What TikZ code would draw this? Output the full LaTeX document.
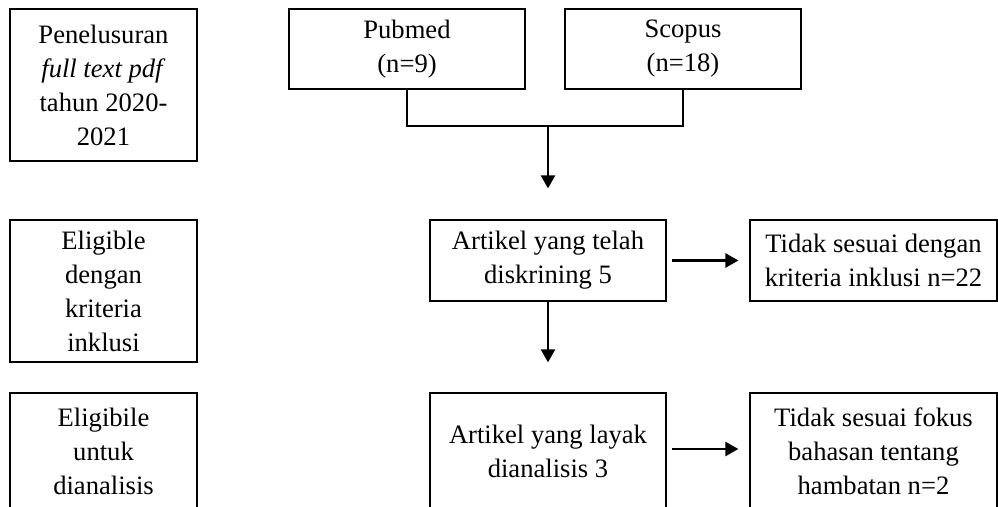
\documentclass[tikz,border=0pt]{standalone}
\usepackage{fontspec}
\setmainfont{Liberation Serif}
\usetikzlibrary{arrows.meta}
\begin{document}
\begin{tikzpicture}[x=0.5pt,y=-0.5pt,
  box/.style={draw, line width=0.6pt, rectangle, inner sep=0pt, align=center,
    font=\fontsize{13.3}{17}\selectfont},
  conn/.style={line width=1.3pt},
  arr/.style={line width=1.3pt, -{Triangle[length=6.5pt,width=7pt]}}]
\useasboundingbox (0,0) rectangle (998,507);
\clip (0,0) rectangle (998,507);
% left column
\node[box, minimum width=93.5pt, minimum height=76pt] (pen) at (103.5,85)
  {Penelusuran\\ \textit{full text pdf}\\ tahun 2020-\\ 2021};
\node[box, minimum width=93.5pt, minimum height=71pt] (elig) at (103.5,291)
  {Eligible\\ dengan\\ kriteria\\ inklusi};
\node[box, minimum width=93.5pt, minimum height=58pt] (elig2) at (103.5,451)
  {Eligibile\\ untuk\\ dianalisis};
% sources
\node[box, minimum width=118pt, minimum height=40pt] (pub) at (407,49)
  {Pubmed\\ (n=9)};
\node[box, minimum width=118pt, minimum height=40pt] (sco) at (683,49)
  {Scopus\\ (n=18)};
% main flow
\node[box, minimum width=118pt, minimum height=40.5pt] (scr) at (548,260.5)
  {Artikel yang telah\\ diskrining 5};
\node[box, minimum width=123.5pt, minimum height=40.5pt] (ex1) at (873.5,260.5)
  {Tidak sesuai dengan\\ kriteria inklusi n=22};
\node[box, minimum width=118pt, minimum height=58pt] (ana) at (548,451)
  {Artikel yang layak\\ dianalisis 3};
\node[box, minimum width=123.5pt, minimum height=58pt] (ex2) at (873.5,451)
  {Tidak sesuai fokus\\ bahasan tentang\\ hambatan n=2};
% connectors
\coordinate (j) at (548,126);
\draw[conn] (pub.south) |- (sco.south |- j) -- (sco.south);
\draw[arr, shorten >=15.5pt] (j) -- (scr.north);
\draw[arr, shorten >=15pt] (scr.south) -- (ana.north);
\draw[arr, shorten <=2.5pt, shorten >=5.5pt] (scr.east) -- (ex1.west);
\draw[arr, shorten <=2.5pt, shorten >=5.5pt] (ana.east |- 0,449) -- (ex2.west |- 0,449);
\end{tikzpicture}
\end{document}
